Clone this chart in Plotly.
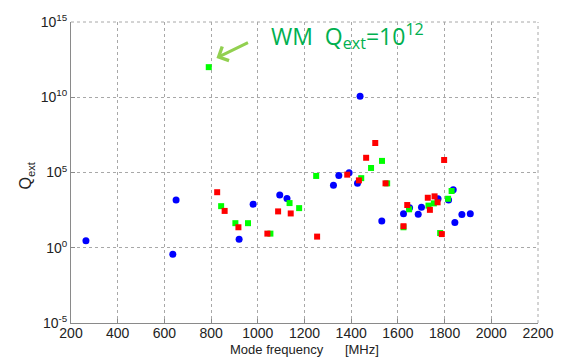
import plotly.graph_objects as go

# Mode frequencies [MHz] and external Q for the three mode groups
blue_f = [264, 636, 650, 920, 980, 1094, 1125, 1324, 1347, 1391, 1427, 1438,
          1531, 1624, 1650, 1687, 1701, 1772, 1817, 1837, 1844, 1874, 1910]
blue_q = [2.9, 0.37, 1.5e3, 3.7, 7.8e2, 3.2e3, 1.9e3, 1.4e4, 6.2e4, 9.8e4, 1.9e4, 1.15e10,
          60, 180, 450, 170, 490, 1.8e3, 1.5e3, 7.2e3, 47, 160, 180]

green_f = [790, 843, 904, 958, 1054, 1136, 1177, 1250, 1443, 1485, 1532, 1554,
           1624, 1648, 1731, 1754, 1781, 1815, 1830]
green_q = [1e12, 5.8e2, 43, 43, 8.7, 9.3e2, 4.3e2, 5.9e4, 4.2e4, 2.0e5, 5.9e5, 1.9e4,
           23, 3.6e2, 6.3e2, 8.9e2, 9.5, 1.8e3, 5.9e3]

red_f = [826, 858, 917, 1041, 1087, 1141, 1254, 1383, 1433, 1464, 1503, 1547,
         1624, 1640, 1728, 1737, 1757, 1770, 1788, 1798]
red_q = [4.9e3, 2.8e2, 23, 8.7, 2.6e2, 1.9e2, 5.5, 7.2e4, 3.0e4, 9.5e5, 9.1e6, 1.9e4,
         27, 6.9e2, 2.1e3, 3.3e2, 2.6e3, 1.05e3, 8.1, 6.8e5]

x_ticks = [200, 400, 600, 800, 1000, 1200, 1400, 1600, 1800, 2000, 2200]
y_exps = [-5, 0, 5, 10, 15]

FONT = "Liberation Sans, Arial, sans-serif"

fig = go.Figure()
fig.add_trace(go.Scatter(x=blue_f, y=blue_q, mode="markers",
                         marker=dict(symbol="circle", size=7, color="#0000ff")))
fig.add_trace(go.Scatter(x=green_f, y=green_q, mode="markers",
                         marker=dict(symbol="square", size=6, color="#00ff00")))
fig.add_trace(go.Scatter(x=red_f, y=red_q, mode="markers",
                         marker=dict(symbol="square", size=6, color="#ff0000")))

fig.update_layout(
    width=570, height=357,
    margin=dict(l=71, r=32, t=16, b=34),
    paper_bgcolor="white", plot_bgcolor="white",
    showlegend=False,
    font=dict(family=FONT, size=14, color="#222222"),
)
fig.update_xaxes(
    range=[200, 2200], tickvals=x_ticks, ticktext=[str(v) for v in x_ticks],
    showgrid=True, gridcolor="#a8a8a8", griddash="dot", gridwidth=1,
    showline=True, linecolor="#8a8a8a", linewidth=1,
    ticks="inside", ticklen=4, tickcolor="#8a8a8a",
    zeroline=False, tickfont=dict(size=14), ticklabelstandoff=-3,
)
fig.update_yaxes(
    type="log", range=[-5, 15],
    tickvals=[10.0 ** e for e in y_exps],
    ticktext=[f"10<sup>{e}</sup>" for e in y_exps],
    showgrid=True, gridcolor="#a8a8a8", griddash="dot", gridwidth=1,
    showline=True, linecolor="#8a8a8a", linewidth=1,
    ticks="inside", ticklen=4, tickcolor="#8a8a8a",
    zeroline=False, tickfont=dict(size=14),
)

# dotted frame on the top and right edges
fig.add_shape(type="line", xref="paper", yref="paper", x0=0, x1=1, y0=1, y1=1,
              line=dict(color="#a8a8a8", width=1, dash="dot"))
fig.add_shape(type="line", xref="paper", yref="paper", x0=1, x1=1, y0=0, y1=1,
              line=dict(color="#a8a8a8", width=1, dash="dot"))

# axis titles
fig.add_annotation(text="Mode frequency\u00a0\u00a0\u00a0\u00a0\u00a0\u00a0[MHz]",
                   xref="paper", yref="paper", x=0.5, y=0, yshift=-26,
                   xanchor="center", yanchor="middle", showarrow=False,
                   font=dict(size=13, family=FONT, color="#222222"))
fig.add_annotation(text="Q<sub>ext</sub>", textangle=-90,
                   xref="paper", yref="paper", x=0, xshift=-44, y=0.49,
                   xanchor="center", yanchor="middle", showarrow=False,
                   font=dict(size=16, family=FONT, color="#222222"))

# label of the WM mode with its arrow
fig.add_annotation(text="WM\u00a0\u00a0Q<sub>ext</sub>=10<sup>12</sup>",
                   xref="paper", yref="paper", x=0.424, y=0.955,
                   xanchor="left", yanchor="middle", showarrow=False,
                   font=dict(size=23, family="Open Sans, sans-serif", color="#00b050"))
fig.add_annotation(x=823, y=12.61, xref="x", yref="y", text="",
                   showarrow=True, arrowhead=4, arrowsize=1, arrowwidth=3,
                   arrowcolor="#92d050", ax=33, ay=-16)

fig.write_html("out.html")
